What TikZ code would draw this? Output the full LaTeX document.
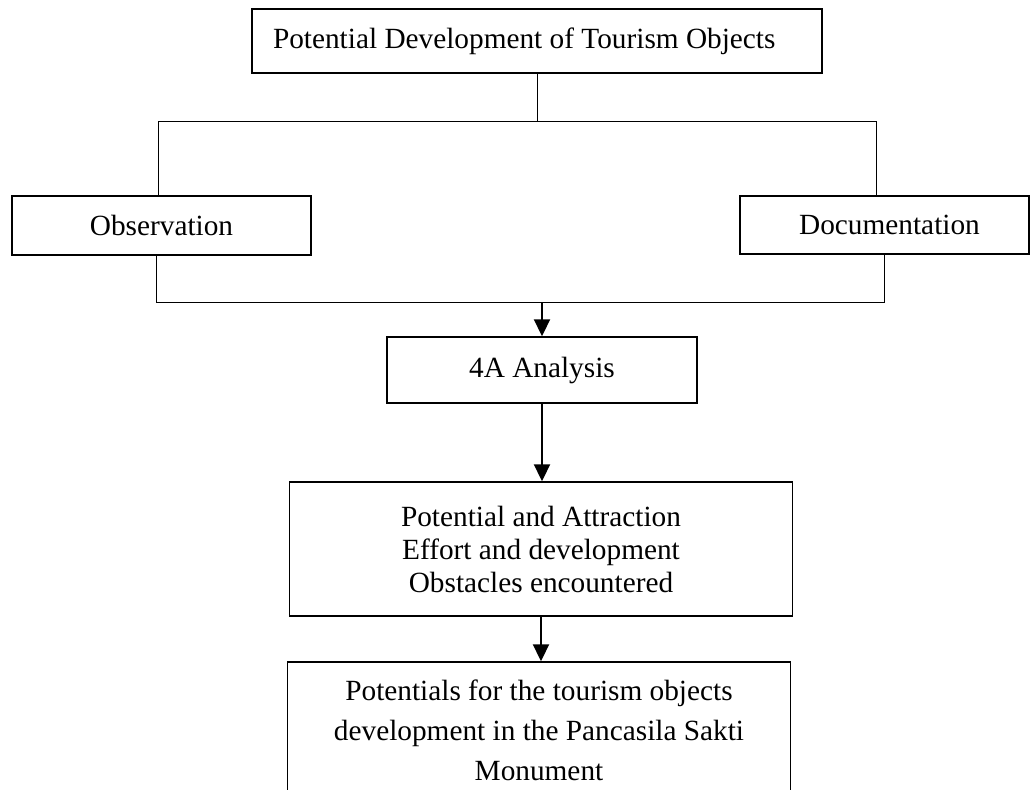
\documentclass[tikz,border=0pt]{standalone}
\usepackage{fontspec}
\setmainfont{Liberation Serif}
\usetikzlibrary{arrows.meta}

\begin{document}
\begin{tikzpicture}[x=0.5pt, y=-0.5pt]
\tikzset{every node/.style={draw, line width=0.75pt, inner sep=0pt, align=center, font=\fontsize{14.65}{16.5}\selectfont}}
\useasboundingbox (0,0) rectangle (1030,789);

\node[minimum height=32pt, text width=264pt, inner xsep=10.5pt, align=flush left] (top) at (537,41) {Potential Development of Tourism Objects};
\node[minimum width=149.5pt, minimum height=29.5pt] (obs) at (161.5,225.5) {Observation};
\node[minimum width=144.5pt, minimum height=29pt] (doc) at (884.5,225) {\hspace{5pt}Documentation};
\node[minimum width=155pt, minimum height=33pt] (ana) at (542,370) {4A Analysis};
\node[minimum width=251.5pt, minimum height=67pt] (pot) at (541,549) {Potential and Attraction\\Effort and development\\Obstacles encountered};
\node[minimum width=251.5pt, minimum height=68pt, font=\fontsize{14.65}{20}\selectfont] (mon) at (539,730) {Potentials for the tourism objects\\development in the Pancasila Sakti\\Monument};

\coordinate (barL) at (158,121);
\coordinate (barR) at (876,121);
\coordinate (joinL) at (156,302);
\coordinate (joinR) at (884,302);
\coordinate (joinM) at (542,302);

\tikzset{mystyle/.style={line width=0.5pt}}
\draw[mystyle] (top.south) -- (top.south |- barL);
\draw[mystyle] (barL) -- (barR);
\draw[mystyle] (barL) -- (barL |- obs.north);
\draw[mystyle] (barR) -- (barR |- doc.north);
\draw[mystyle] (joinL |- obs.south) -- (joinL) -- (joinR) -- (joinR |- doc.south);
\tikzset{mystyle/.style={-{Triangle[length=8.5pt, width=8pt]}, line width=1.1pt}}
\draw[mystyle] (joinM) -- (ana.north);
\draw[mystyle] (ana.south) -- (ana.south |- pot.north);
\draw[mystyle] (pot.south) -- (pot.south |- mon.north);

\end{tikzpicture}
\end{document}
